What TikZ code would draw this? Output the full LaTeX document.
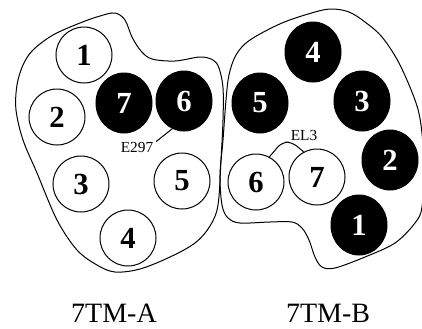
\documentclass[tikz,border=0pt]{standalone}
\usepackage{fontspec}
\setmainfont{Liberation Serif}
\usetikzlibrary{shapes.geometric}
\begin{document}
\begin{tikzpicture}[x=0.75pt,y=-0.75pt,
  helix/.style={ellipse, draw=black, line width=0.75pt, inner sep=0pt, minimum width=42pt, minimum height=42pt, font=\fontsize{23}{23}\selectfont\bfseries},
  whitehelix/.style={helix, fill=white, text=black},
  blackhelix/.style={helix, fill=black, text=white, minimum height=45pt},
  outline/.style={draw=black, line width=0.75pt},
  lab/.style={font=\fontsize{11.5}{11.5}\selectfont, inner sep=0pt},
  title/.style={font=\fontsize{21}{21}\selectfont, inner sep=0pt}]
\useasboundingbox (0,0) rectangle (422,329);
% outlines
\draw[outline] plot[smooth cycle, tension=0.55] coordinates {(115,13) (125,20) (132,37) (141,51) (152,59) (175,61) (200,57) (213,60) (219,68) (223,88) (223,120) (221,160) (218,205) (210,226) (195,243) (170,257) (140,269) (115,272) (97,265) (77,250) (57,220) (37,173) (23,140) (16,110) (17,85) (23,65) (33,50) (53,35) (80,23) (100,16)};
\draw[outline] plot[smooth cycle, tension=0.55] coordinates {(220,175) (223,140) (226,100) (229,75) (236,55) (250,40) (282,23) (315,12) (332,9) (349,12) (365,22) (382,37) (399,63) (415,100) (421,125) (424,165) (422,207) (415,223) (395,243) (365,257) (335,268) (322,267) (315,257) (309,240) (302,228) (292,222) (270,222) (240,223) (228,218) (222,205)};
% 7TM-A
\node[whitehelix] (A1) at (84,55) {1};
\node[whitehelix] (A2) at (57,117) {2};
\node[blackhelix] (A7) at (124,103) {7};
\node[blackhelix] (A6) at (184,101) {6};
\node[whitehelix] (A3) at (81,184) {3};
\node[whitehelix] (A5) at (182,181) {5};
\node[whitehelix] (A4) at (128,238) {4};
% 7TM-B
\node[blackhelix] (B4) at (313,52) {4};
\node[blackhelix] (B5) at (260,103) {5};
\node[blackhelix] (B3) at (362,101) {3};
\node[blackhelix] (B2) at (390,160) {2};
\node[blackhelix] (B1) at (359,225) {1};
\node[whitehelix] (B6) at (256,182) {6};
\node[whitehelix] (B7) at (317,177) {7};
% labels
\node[lab] (e297) at (137,147) {E297};
\draw[line width=0.75pt] ([xshift=2pt]e297.north east) -- (A6.-113);
\node[lab] (el3) at (304,135) {EL3};
\coordinate (b1) at (282,142);
\coordinate (b2) at (292,142);
\draw[line width=0.75pt, rounded corners=5pt] (B6.62) -- (b1) -- (b2) -- (B7.118);
\node[title] (tA) at (114,313) {7TM-A};
\node[title] (tB) at (328,313) {7TM-B};
\end{tikzpicture}
\end{document}
